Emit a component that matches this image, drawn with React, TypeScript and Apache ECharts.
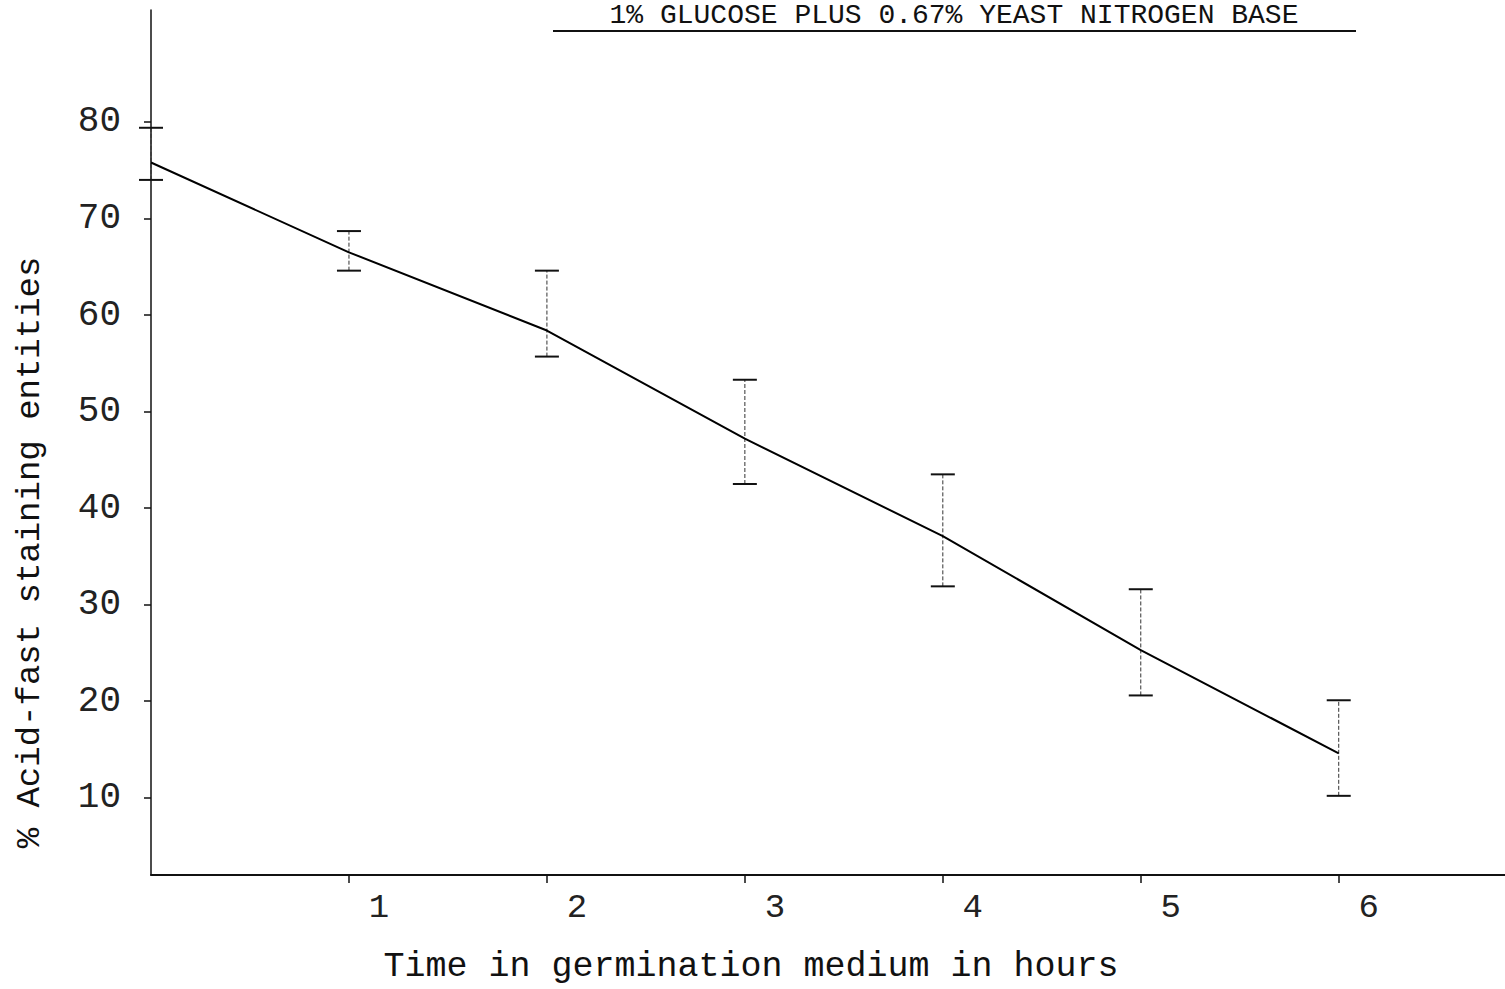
import React, { useEffect, useRef } from "react";
import * as echarts from "echarts";

const titleText = "1% GLUCOSE PLUS 0.67% YEAST NITROGEN BASE";
const xAxisName = "Time in germination medium in hours";
const yAxisName = "% Acid-fast staining entities";

const hours = [0, 1, 2, 3, 4, 5, 6];
const meanPct = [75.8, 66.5, 58.4, 47.2, 37.1, 25.3, 14.6];
const upperPct = [79.4, 68.7, 64.6, 53.3, 43.5, 31.6, 20.1];
const lowerPct = [74.0, 64.6, 55.7, 42.5, 31.9, 20.6, 10.2];

const xTickValues = [1, 2, 3, 4, 5, 6];
const yTickValues = [10, 20, 30, 40, 50, 60, 70, 80];

const FONT = "'Liberation Mono', 'DejaVu Sans Mono', monospace";

export default function App() {
  const ref = useRef<HTMLDivElement>(null);

  useEffect(() => {
    if (!ref.current) return;
    const chart = echarts.init(ref.current, null, { renderer: "svg" });

    const lineData = hours.map((h, i) => [h, meanPct[i]]);
    const errData = hours.map((h, i) => [h, lowerPct[i], upperPct[i]]);

    chart.setOption({
      animation: false,
      backgroundColor: "#ffffff",
      grid: { left: 151, right: 0, top: 10, bottom: 110, containLabel: false },
      graphic: [
        {
          type: "text",
          x: 954,
          y: 1,
          style: {
            text: titleText,
            font: `28px ${FONT}`,
            fill: "#111",
            align: "center",
            verticalAlign: "top",
          },
          z: 10,
        },
        {
          type: "line",
          shape: { x1: 553, y1: 31, x2: 1356, y2: 31 },
          style: { stroke: "#111", lineWidth: 2 },
          z: 10,
        },
      ],
      xAxis: {
        type: "value",
        min: 0,
        max: 6.84,
        name: xAxisName,
        nameLocation: "middle",
        nameGap: 74,
        nameTextStyle: {
          fontFamily: FONT,
          fontSize: 35,
          color: "#111",
          padding: [0, 154, 0, 0],
        },
        axisLine: { show: true, onZero: false, lineStyle: { color: "#111", width: 2 } },
        axisTick: {
          show: true,
          inside: false,
          length: 8,
          customValues: xTickValues,
          lineStyle: { color: "#111", width: 1.5 },
        },
        axisLabel: {
          customValues: xTickValues,
          fontFamily: FONT,
          fontSize: 34,
          color: "#222",
          margin: 16,
          padding: [0, 0, 0, 60],
        },
        splitLine: { show: false },
      },
      yAxis: {
        type: "value",
        min: 2,
        max: 91.6,
        name: yAxisName,
        nameLocation: "middle",
        nameGap: 104,
        nameRotate: 90,
        nameTextStyle: {
          fontFamily: FONT,
          fontSize: 34,
          color: "#111",
          padding: [0, 220, 0, 0],
        },
        axisLine: { show: true, lineStyle: { color: "#111", width: 1.5 } },
        axisTick: {
          show: true,
          inside: false,
          length: 7,
          customValues: yTickValues,
          lineStyle: { color: "#111", width: 1.5 },
        },
        axisLabel: {
          customValues: yTickValues,
          fontFamily: FONT,
          fontSize: 36,
          color: "#222",
          margin: 30,
          padding: [0, 0, 6, 0],
        },
        splitLine: { show: false },
      },
      series: [
        {
          type: "line",
          data: lineData,
          showSymbol: false,
          symbol: "none",
          lineStyle: { color: "#000", width: 2 },
          z: 3,
        },
        {
          type: "custom",
          clip: false,
          data: errData,
          z: 2,
          renderItem: (params: any, api: any) => {
            const x = api.value(0);
            const lo = api.coord([x, api.value(1)]);
            const hi = api.coord([x, api.value(2)]);
            const half = 12;
            return {
              type: "group",
              children: [
                {
                  type: "line",
                  shape: { x1: lo[0], y1: lo[1], x2: hi[0], y2: hi[1] },
                  style: { stroke: "#333", lineWidth: 1, lineDash: [4, 2] },
                },
                {
                  type: "line",
                  shape: { x1: hi[0] - half, y1: hi[1], x2: hi[0] + half, y2: hi[1] },
                  style: { stroke: "#111", lineWidth: 2 },
                },
                {
                  type: "line",
                  shape: { x1: lo[0] - half, y1: lo[1], x2: lo[0] + half, y2: lo[1] },
                  style: { stroke: "#111", lineWidth: 2 },
                },
              ],
            };
          },
        },
      ],
    });

    return () => {
      chart.dispose();
    };
  }, []);

  return (
    <div
      ref={ref}
      style={{ position: "absolute", left: 0, top: 0, width: 1505, height: 989 }}
    />
  );
}
